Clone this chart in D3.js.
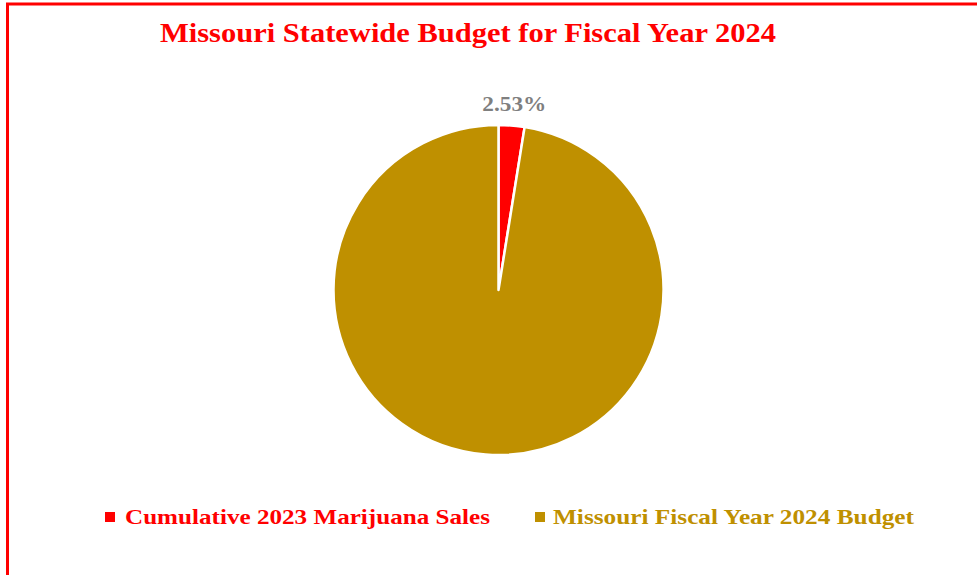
<!DOCTYPE html>
<html>
<head>
<meta charset="utf-8">
<script src="https://cdn.jsdelivr.net/npm/d3@7"></script>
<style>
  html, body { margin: 0; padding: 0; background: #ffffff; }
  svg { display: block; }
  text { font-family: "Palatino Linotype", "Book Antiqua", Palatino, "Liberation Serif", "DejaVu Serif", serif; font-weight: bold; }
</style>
</head>
<body>
<svg id="chart" width="977" height="575"></svg>
<script>
// Budget share: 2023 marijuana sales vs. the FY2024 state budget (billions USD)
const categories = ["Cumulative 2023 Marijuana Sales", "Missouri Fiscal Year 2024 Budget"];
const values = [1.46, 56.25];
const colors = ["#FF0000", "#BF9000"];
const title = "Missouri Statewide Budget for Fiscal Year 2024";

const svg = d3.select("#chart");
const W = 977, H = 575;

// chart frame (only top and left edges fall inside the view)
svg.append("rect")
  .attr("x", 7.5).attr("y", 4)
  .attr("width", W + 20).attr("height", H + 20)
  .attr("fill", "#ffffff")
  .attr("stroke", "#FF0000")
  .attr("stroke-width", 3);

// title
svg.append("text")
  .attr("x", 468).attr("y", 42)
  .attr("text-anchor", "middle")
  .attr("font-size", 28)
  .attr("fill", "#FF0000")
  .attr("textLength", 616)
  .attr("lengthAdjust", "spacingAndGlyphs")
  .text(title);

// pie
const cx = 498.5, cy = 290, r = 165;
const total = d3.sum(values);
const pie = d3.pie().sort(null).value(d => d)(values);
const arc = d3.arc().innerRadius(0).outerRadius(r);

const g = svg.append("g").attr("transform", `translate(${cx},${cy})`);
g.selectAll("path")
  .data(pie)
  .join("path")
  .attr("d", arc)
  .attr("fill", (d, i) => colors[i])
  .attr("stroke", "#ffffff")
  .attr("stroke-width", 2.5)
  .attr("stroke-linejoin", "round");

// data label for the small slice
const fmt = d3.format(".2%");
const s0 = pie[0];
const mid = (s0.startAngle + s0.endAngle) / 2;
const lr = r + 22;
g.append("text")
  .attr("x", Math.sin(mid) * lr + 1)
  .attr("y", -Math.cos(mid) * lr + 7)
  .attr("text-anchor", "middle")
  .attr("font-size", 22)
  .attr("fill", "#7F7F7F")
  .attr("textLength", 64)
  .attr("lengthAdjust", "spacingAndGlyphs")
  .text(fmt(values[0] / total));

// legend
const legendItems = [
  { x: 105, textX: 125, width: 365 },
  { x: 535, textX: 553, width: 361 }
];
const leg = svg.append("g");
categories.forEach((c, i) => {
  const it = legendItems[i];
  leg.append("rect")
    .attr("x", it.x).attr("y", 512)
    .attr("width", 10).attr("height", 10)
    .attr("fill", colors[i]);
  leg.append("text")
    .attr("x", it.textX).attr("y", 524)
    .attr("font-size", 22)
    .attr("fill", colors[i])
    .attr("textLength", it.width)
    .attr("lengthAdjust", "spacingAndGlyphs")
    .text(c);
});
</script>
</body>
</html>
